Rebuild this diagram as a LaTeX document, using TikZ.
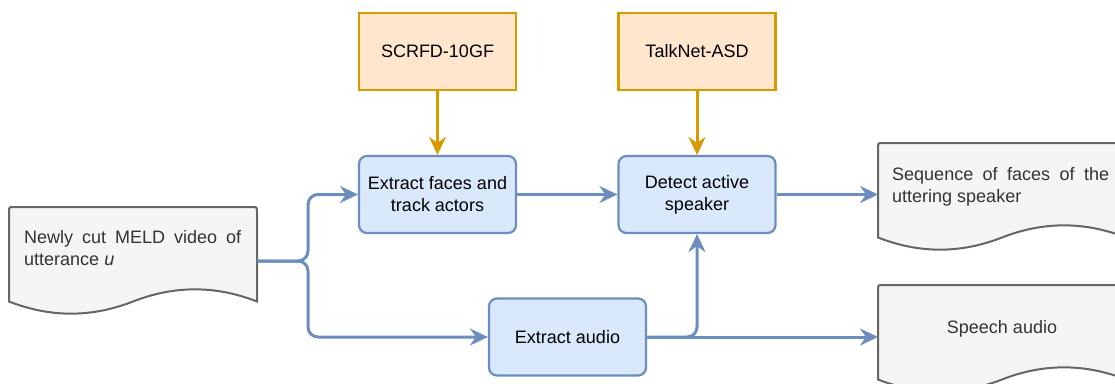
\documentclass[tikz,border=0pt]{standalone}
\usepackage{fontspec}
\setmainfont{Liberation Sans}
\usetikzlibrary{arrows.meta,calc}
\definecolor{bluefill}{HTML}{DAE8FC}
\definecolor{bluedraw}{HTML}{6C8EBF}
\definecolor{orfill}{HTML}{FFE6CC}
\definecolor{ordraw}{HTML}{D79B00}
\definecolor{docfill}{HTML}{F5F5F5}
\definecolor{docdraw}{HTML}{666666}
\definecolor{doctext}{HTML}{333333}
\hyphenpenalty=10000
\tolerance=9999
\newcommand\drawdoc[1]{%
 \path[draw=docdraw, fill=docfill, line width=2pt]
 ($(#1.south west)+(0,-13.5)$) -- ($(#1.north west)+(0,5)$)
 .. controls (#1.north west) .. ($(#1.north west)+(5,0)$)
 -- ($(#1.north east)+(-5,0)$)
 .. controls (#1.north east) .. ($(#1.north east)+(0,5)$)
 -- ($(#1.south east)+(0,-13.5)$)
 .. controls ($(#1.south east)+(-41.33,-29.7)$) and ($(#1.south)+(41.33,-29.7)$) .. ($(#1.south)+(0,-13.5)$)
 .. controls ($(#1.south)+(-41.33,2.7)$) and ($(#1.south west)+(41.33,2.7)$) .. ($(#1.south west)+(0,-13.5)$)
 -- cycle;}
\begin{document}
\begin{tikzpicture}[x=1pt,y=-1pt,
  txt/.style={font=\fontsize{18}{22}\selectfont},
  orbox/.style={txt, draw=ordraw, fill=orfill, line width=2.2pt, minimum width=157pt, minimum height=77pt, inner sep=0pt},
  bluebox/.style={txt, draw=bluedraw, fill=bluefill, line width=2.2pt, rounded corners=8pt, minimum width=157pt, minimum height=77pt, inner sep=0pt, align=center},
  docnode/.style={minimum width=248pt, minimum height=108pt, inner sep=0pt, outer sep=0pt},
  doctxt/.style={txt, text=doctext, text width=217pt, align=justify, inner sep=0pt, anchor=north west},
  tip/.style={-{Stealth[length=18pt,width=17pt,inset=6pt]}},
  flow/.style={draw=bluedraw, line width=3pt, tip, rounded corners=10pt},
  feed/.style={draw=ordraw, line width=3pt, tip}]
\useasboundingbox (0,0) rectangle (1115,383);
\clip (0,0) rectangle (1115,383);
% documents
\node[docnode] (vid) at (133,261) {};
\node[docnode] (seq) at (1002,197) {};
\node[docnode] (out) at (1002,339) {};
\drawdoc{vid}
\drawdoc{seq}
\drawdoc{out}
\node[doctxt] (vidtxt) at (24,230.2) {Newly cut MELD video of utterance \textit{u}};
\node[doctxt] (seqtxt) at (892,167) {Sequence of faces of the uttering speaker};
\node[txt, text=doctext, inner sep=0pt, anchor=base] (outtxt) at (1002,333) {Speech audio};
% boxes
\node[orbox] (scrfd) at (437.5,51.5) {SCRFD-10GF};
\node[orbox] (talknet) at (697,51.5) {TalkNet-ASD};
\node[bluebox] (faces) at (437.5,194.5) {Extract faces and\\track actors};
\node[bluebox] (detect) at (697,194.5) {Detect active\\speaker};
\node[bluebox] (audio) at (567.5,337) {Extract audio};
% connectors
\coordinate (split) at (308,261);
\draw[feed] (scrfd) -- (faces);
\draw[feed] (talknet) -- (detect);
\draw[flow] (vid.east) -- (split) |- (faces.west);
\draw[flow] (vid.east) -- (split) |- (audio.west);
\draw[flow] (faces) -- (detect);
\draw[flow] (detect.east) -- (detect.east -| seq.west);
\draw[flow] (audio.east) -- (audio.east -| out.west);
\draw[flow] (audio.east) -| (detect.south);
\end{tikzpicture}
\end{document}
